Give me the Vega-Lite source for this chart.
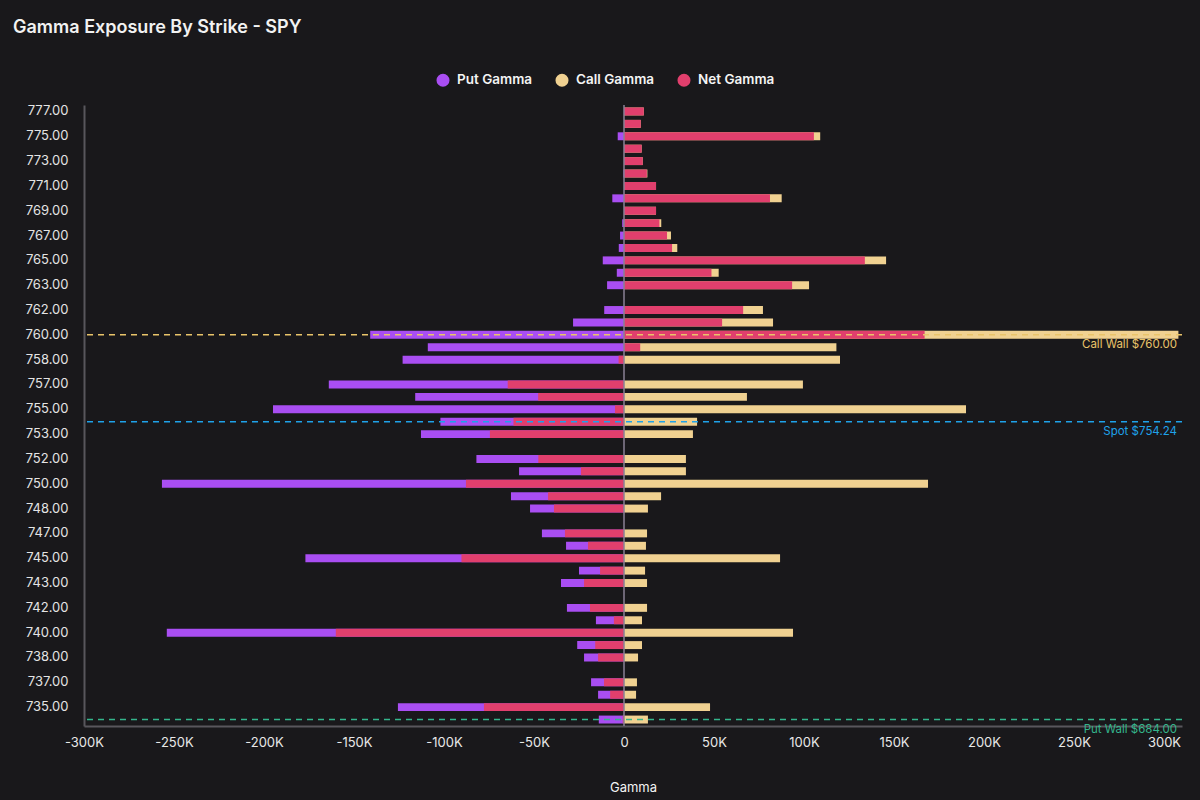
{
  "$schema": "https://vega.github.io/schema/vega-lite/v6.json",
  "width": 1098,
  "height": 621,
  "padding": {"left": 13, "top": 19, "right": 30, "bottom": 20},
  "background": "#19181b",
  "title": {
    "text": "Gamma Exposure By Strike - SPY",
    "anchor": "start",
    "frame": "bounds",
    "dx": -12,
    "fontSize": 18,
    "fontWeight": 600,
    "font": "Inter",
    "color": "#f2f2f2",
    "offset": 36
  },
  "config": {
    "view": {"stroke": null},
    "font": "Inter",
    "axis": {"labelFont": "Inter", "titleFont": "Inter"}
  },
  "datasets": {
    "gex": [
      {"strike": "777.00", "put": 0, "call": 11000, "net": 11000},
      {"strike": "776.00", "put": 0, "call": 9300, "net": 9300},
      {"strike": "775.00", "put": -3500, "call": 109000, "net": 105500},
      {"strike": "774.00", "put": 0, "call": 9800, "net": 9800},
      {"strike": "773.00", "put": 0, "call": 10400, "net": 10400},
      {"strike": "772.00", "put": -300, "call": 13000, "net": 12700},
      {"strike": "771.00", "put": 0, "call": 17800, "net": 17800},
      {"strike": "770.00", "put": -6500, "call": 87600, "net": 81100},
      {"strike": "769.00", "put": 0, "call": 17800, "net": 17800},
      {"strike": "768.00", "put": -1000, "call": 20700, "net": 19700},
      {"strike": "767.00", "put": -2200, "call": 26100, "net": 23900},
      {"strike": "766.00", "put": -2900, "call": 29600, "net": 26700},
      {"strike": "765.00", "put": -11800, "call": 145600, "net": 133800},
      {"strike": "764.00", "put": -4000, "call": 52600, "net": 48600},
      {"strike": "763.00", "put": -9400, "call": 102800, "net": 93400},
      {"strike": "762.50", "put": 0, "call": 0, "net": 0},
      {"strike": "762.00", "put": -11000, "call": 77200, "net": 66200},
      {"strike": "761.00", "put": -28300, "call": 82800, "net": 54500},
      {"strike": "760.00", "put": -141000, "call": 308000, "net": 167000},
      {"strike": "759.00", "put": -109000, "call": 118000, "net": 9000},
      {"strike": "758.00", "put": -123000, "call": 120000, "net": -3000},
      {"strike": "757.50", "put": 0, "call": 0, "net": 0},
      {"strike": "757.00", "put": -164000, "call": 99400, "net": -64600},
      {"strike": "756.00", "put": -116000, "call": 68300, "net": -47700},
      {"strike": "755.00", "put": -195000, "call": 190000, "net": -5000},
      {"strike": "754.00", "put": -102000, "call": 40600, "net": -61400},
      {"strike": "753.00", "put": -112800, "call": 38300, "net": -74500},
      {"strike": "752.50", "put": 0, "call": 0, "net": 0},
      {"strike": "752.00", "put": -82000, "call": 34400, "net": -47600},
      {"strike": "751.00", "put": -58300, "call": 34400, "net": -23900},
      {"strike": "750.00", "put": -256700, "call": 168900, "net": -87800},
      {"strike": "749.00", "put": -62800, "call": 20600, "net": -42200},
      {"strike": "748.00", "put": -52200, "call": 13300, "net": -38900},
      {"strike": "747.50", "put": 0, "call": 0, "net": 0},
      {"strike": "747.00", "put": -45600, "call": 12800, "net": -32800},
      {"strike": "746.00", "put": -32200, "call": 12200, "net": -20000},
      {"strike": "745.00", "put": -177000, "call": 86700, "net": -90300},
      {"strike": "744.00", "put": -25000, "call": 11700, "net": -13300},
      {"strike": "743.00", "put": -35000, "call": 12800, "net": -22200},
      {"strike": "742.50", "put": 0, "call": 0, "net": 0},
      {"strike": "742.00", "put": -31700, "call": 12800, "net": -18900},
      {"strike": "741.00", "put": -15600, "call": 10000, "net": -5600},
      {"strike": "740.00", "put": -254000, "call": 93900, "net": -160100},
      {"strike": "739.00", "put": -26000, "call": 10000, "net": -16000},
      {"strike": "738.00", "put": -22200, "call": 7800, "net": -14400},
      {"strike": "737.50", "put": 0, "call": 0, "net": 0},
      {"strike": "737.00", "put": -18300, "call": 7200, "net": -11100},
      {"strike": "736.00", "put": -14400, "call": 6700, "net": -7700},
      {"strike": "735.00", "put": -125600, "call": 47800, "net": -77800},
      {"strike": "734.00", "put": -14000, "call": 13300, "net": -700}
    ],
    "refs": [
      {"strike": "760.00", "label": "Call Wall $760.00", "kind": "call"},
      {"strike": "754.00", "label": "Spot $754.24", "kind": "spot"},
      {"strike": "734.00", "label": "Put Wall $684.00", "kind": "put"}
    ],
    "zero": [{"x": 0}]
  },
  "encoding": {
    "y": {
      "field": "strike",
      "type": "ordinal",
      "sort": {"field": "strike", "order": "descending"},
      "scale": {
        "domain": ["777.00","776.00","775.00","774.00","773.00","772.00","771.00","770.00","769.00","768.00","767.00","766.00","765.00","764.00","763.00","762.50","762.00","761.00","760.00","759.00","758.00","757.50","757.00","756.00","755.00","754.00","753.00","752.50","752.00","751.00","750.00","749.00","748.00","747.50","747.00","746.00","745.00","744.00","743.00","742.50","742.00","741.00","740.00","739.00","738.00","737.50","737.00","736.00","735.00","734.00"],
        "paddingInner": 0.36,
        "paddingOuter": 0.2
      },
      "axis": {
        "title": null,
        "values": ["777.00","775.00","773.00","771.00","769.00","767.00","765.00","763.00","762.00","760.00","758.00","757.00","755.00","753.00","752.00","750.00","748.00","747.00","745.00","743.00","742.00","740.00","738.00","737.00","735.00"],
        "ticks": false,
        "labelPadding": 16,
        "labelFontSize": 13,
        "labelColor": "#e4e4e4",
        "domainColor": "#58565c",
        "domainWidth": 2,
        "grid": false
      }
    }
  },
  "layer": [
    {
      "data": {"name": "gex"},
      "transform": [{"fold": ["put", "call", "net"], "as": ["series", "value"]}],
      "mark": {"type": "bar", "clip": true},
      "encoding": {
        "x": {
          "field": "value",
          "type": "quantitative",
          "stack": null,
          "scale": {"domain": [-300000, 310000], "nice": false, "zero": false},
          "axis": {
            "title": "Gamma",
            "titleColor": "#f2f2f2",
            "titleFontSize": 13,
            "titleFontWeight": "normal",
            "titlePadding": 32,
            "values": [-300000,-250000,-200000,-150000,-100000,-50000,0,50000,100000,150000,200000,250000,300000],
            "labelExpr": "datum.value == 0 ? '0' : (datum.value < 0 ? '-' : '') + abs(datum.value) / 1000 + 'K'",
            "labelFlush": false,
            "labelOverlap": false,
            "labelFontSize": 13,
            "labelColor": "#e8e8e8",
            "labelPadding": 10,
            "ticks": false,
            "grid": false,
            "domainColor": "#58565c",
            "domainWidth": 2
          }
        },
        "color": {
          "field": "series",
          "type": "nominal",
          "scale": {"domain": ["put", "call", "net"], "range": ["#a94ef2", "#f0d191", "#e13f6d"]},
          "legend": {
            "title": null,
            "orient": "none",
            "legendX": 352,
            "legendY": -32,
            "direction": "horizontal",
            "symbolType": "circle",
            "symbolSize": 170,
            "symbolStrokeWidth": 0,
            "labelFontSize": 13.5,
            "labelFontWeight": 600,
            "labelColor": "#f4f4f4",
            "labelOffset": 7,
            "columnPadding": 22,
            "labelExpr": "{'put': 'Put Gamma', 'call': 'Call Gamma', 'net': 'Net Gamma'}[datum.label]"
          }
        }
      }
    },
    {
      "data": {"name": "zero"},
      "mark": {"type": "rule", "color": "#8a8096", "strokeWidth": 1.5},
      "encoding": {"x": {"field": "x", "type": "quantitative"}, "y": null}
    },
    {
      "data": {"name": "refs"},
      "mark": {"type": "rule", "strokeDash": [6, 5], "strokeWidth": 1.5},
      "encoding": {
        "color": {
          "field": "kind",
          "type": "nominal",
          "scale": {"domain": ["call", "spot", "put"], "range": ["#e9c46a", "#1fa2ea", "#34b58c"]},
          "legend": null
        }
      }
    },
    {
      "data": {"name": "refs"},
      "mark": {"type": "text", "align": "right", "baseline": "top", "dx": -5, "dy": 4, "fontSize": 11.5, "font": "Inter"},
      "encoding": {
        "x": {"datum": 310000},
        "text": {"field": "label"},
        "color": {
          "field": "kind",
          "type": "nominal",
          "scale": {"domain": ["call", "spot", "put"], "range": ["#e9c46a", "#1fa2ea", "#34b58c"]},
          "legend": null
        }
      }
    }
  ],
  "resolve": {"scale": {"color": "independent"}}
}
